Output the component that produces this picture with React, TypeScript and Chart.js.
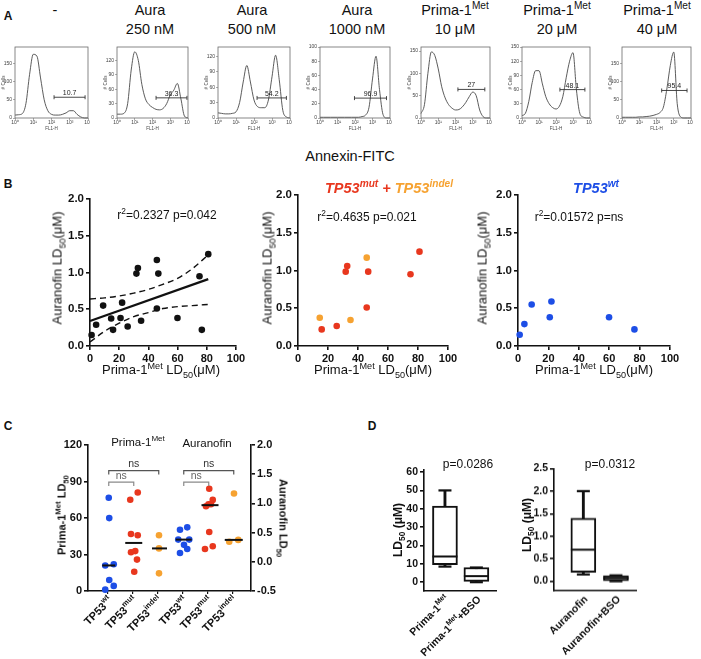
import React, { useEffect, useRef } from 'react';
import { Chart, registerables } from 'chart.js';

Chart.register(...registerables);

const FONT = "'Liberation Sans', Arial, Helvetica, sans-serif";
const RED = '#e8371e';
const ORANGE = '#f6a231';
const BLUE = '#1d4ee6';
const INK = '#111';

// ================= Panel A: flow cytometry (Annexin-FITC) =================
const histLogFL1 = [0, 0.2, 0.4, 0.6, 0.8, 1, 1.2, 1.4, 1.6, 1.8, 2, 2.2, 2.4, 2.6, 2.8, 3, 3.2, 3.4, 3.6, 3.8, 4];
const cellsControl = [8, 9, 12, 40, 120, 175, 170, 110, 50, 20, 10, 8, 8, 10, 14, 20, 20, 10, 3, 0, 0];
const cellsAura250 = [8, 8, 10, 30, 100, 138, 120, 70, 40, 28, 22, 18, 17, 20, 30, 48, 58, 72, 40, 4, 0];
const cellsAura500 = [10, 9, 8, 8, 9, 12, 30, 70, 102, 70, 35, 22, 20, 20, 35, 80, 122, 75, 15, 2, 0];
const cellsAura1000 = [1, 1, 1, 1, 1, 1, 1, 1, 1, 1, 1, 1, 2, 4, 15, 55, 87, 40, 5, 0, 0];
const cellsPrima10 = [10, 30, 100, 148, 140, 110, 70, 45, 30, 22, 18, 19, 25, 35, 48, 58, 50, 18, 3, 0, 0];
const cellsPrima20 = [5, 10, 35, 75, 100, 100, 72, 45, 30, 22, 19, 25, 45, 85, 120, 138, 60, 10, 2, 0, 0];
const cellsPrima40 = [2, 2, 2, 2, 2, 3, 3, 4, 5, 7, 10, 15, 30, 80, 145, 182, 40, 3, 0, 0, 0];
const histCounts = [cellsControl, cellsAura250, cellsAura500, cellsAura1000, cellsPrima10, cellsPrima20, cellsPrima40];
const histYMax = [195, 148, 138, 100, 159, 150, 196];
const histYStep = [50, 30, 30, 20, 50, 30, 50];
const gateStart = [2.14, 2.2, 2.17, 1.97, 2.14, 2.23, 2.3];
const gateEnd = [3.84, 3.94, 3.8, 3.8, 3.7, 3.7, 3.77];
const gateLevel = [57, 42, 39, 28, 64, 60, 76];
const gatePct = ['10.7', '36.3', '54.2', '96.9', '27', '48.1', '95.4'];
const histTitleTop = ['-', 'Aura', 'Aura', 'Aura', 'Prima-1^{Met}', 'Prima-1^{Met}', 'Prima-1^{Met}'];
const histTitleBottom = ['', '250 nM', '500 nM', '1000 nM', '10 \u03bcM', '20 \u03bcM', '40 \u03bcM'];
const SUP_DIGITS = ['\u2070', '\u00b9', '\u00b2', '\u00b3', '\u2074'];

// ================= Panel B: LD50 correlation =================
const wtPrimaLD50 = [1.1, 4.2, 9.0, 20.9, 22.0, 59.9, 76.6];
const wtAuraLD50 = [0.15, 0.29, 0.55, 0.38, 0.59, 0.38, 0.22];
const mutPrimaLD50 = [15.8, 25.8, 31.8, 32.8, 45.8, 46.8, 75, 81];
const mutAuraLD50 = [0.22, 0.265, 0.985, 1.06, 0.51, 0.985, 0.95, 1.25];
const indelPrimaLD50 = [14.5, 35, 45.8];
const indelAuraLD50 = [0.375, 0.344, 1.17];
const fitLineX = [0, 81];
const fitLineY = [0.34, 0.91];
const bandX = [0, 10, 20, 30, 40, 50, 60, 70, 81];
const bandUpper = [0.64, 0.655, 0.68, 0.72, 0.77, 0.84, 0.92, 1.05, 1.24];
const bandLower = [0.055, 0.2, 0.31, 0.4, 0.455, 0.51, 0.535, 0.55, 0.565];

// ================= Panel C: LD50 by TP53 status =================
const cCategories = ['TP53^{wt}', 'TP53^{mut}', 'TP53^{indel}', 'TP53^{wt}', 'TP53^{mut}', 'TP53^{indel}'];
const cCategoryPos = [1, 2, 3, 4, 5, 6];
const cWtPrimaPos = [0.89, 1.23, 1.05, 0.89, 1.23, 1.05, 1.03];
const cMutPrimaPos = [2.05, 2.16, 1.92, 2.09, 2.19, 1.92, 1.89, 2.19];
const cIndelPrimaPos = [3.04, 3.04, 3.04];
const cWtAuraPos = [3.88, 4.04, 3.88, 3.81, 4.17, 4.25, 4.17];
const cMutAuraPos = [4.88, 5.19, 5.02, 5.19, 5.05, 5.12, 4.92, 5.05];
const cIndelAuraPos = [6.21, 5.85, 6.04];
const cPrimaMedians = [21, 39.5, 35];
const cPrimaMedianPos = [1.03, 2.03, 3.06];
const cAuraMedians = [0.38, 0.97, 0.375];
const cAuraMedianPos = [4.03, 5.08, 6.03];
const bracketFrom = [1.03, 1.03, 4.03, 4.03];
const bracketTo = [3.03, 2.03, 6.03, 5.03];
const bracketLevel = [99, 89.5, 99, 89.5];
const bracketText = ['ns', 'ns', 'ns', 'ns'];

// ================= Panel D: BSO box plots =================
const dPrimaLabels = ['Prima-1^{Met}', 'Prima-1^{Met}+BSO'];
const dPrimaMin = [8.5, 0];
const dPrimaQ1 = [9.5, 0];
const dPrimaMed = [14, 3.3];
const dPrimaQ3 = [41.5, 8];
const dPrimaMax = [50, 8];
const dAuraLabels = ['Auranofin', 'Auranofin+BSO'];
const dAuraMin = [0.15, 0.0];
const dAuraQ1 = [0.2, 0.01];
const dAuraMed = [0.7, 0.07];
const dAuraQ3 = [1.4, 0.12];
const dAuraMax = [2.0, 0.13];
const dPos = [1, 2];

// ================= helpers =================
type Box = { l: number; t: number; r: number; b: number; ml: number; mt: number; mr: number; mb: number };
type Seg = { t: string; k: 'n' | 'sup' | 'sub' };

function parseRich(s: string): Seg[] {
  const out: Seg[] = [];
  const re = /\^\{([^}]*)\}|_\{([^}]*)\}/g;
  let last = 0;
  let m: RegExpExecArray | null;
  while ((m = re.exec(s))) {
    if (m.index > last) out.push({ t: s.slice(last, m.index), k: 'n' });
    if (m[1] !== undefined) out.push({ t: m[1], k: 'sup' });
    else out.push({ t: m[2], k: 'sub' });
    last = m.index + m[0].length;
  }
  if (last < s.length) out.push({ t: s.slice(last), k: 'n' });
  return out;
}

function Rich({ text }: { text: string }) {
  return (
    <>
      {parseRich(text).map((s, i) =>
        s.k === 'n' ? (
          <span key={i}>{s.t}</span>
        ) : (
          <span key={i} style={{ fontSize: '0.7em', position: 'relative', top: s.k === 'sup' ? '-0.6em' : '0.4em', lineHeight: 0 }}>
            {s.t}
          </span>
        )
      )}
    </>
  );
}

function Txt(props: { x: number; y: number; size: number; bold?: boolean; italic?: boolean; color?: string; rot?: number; children: any }) {
  const { x, y, size, bold, italic, color, rot, children } = props;
  return (
    <div
      style={{
        position: 'absolute',
        left: x,
        top: y,
        transform: `translate(-50%,-50%) rotate(${rot || 0}deg)`,
        fontFamily: FONT,
        fontSize: size,
        fontWeight: bold ? 700 : 400,
        fontStyle: italic ? 'italic' : 'normal',
        color: color || INK,
        whiteSpace: 'nowrap',
        lineHeight: 1,
      }}
    >
      {children}
    </div>
  );
}

const fitW = (w: number) => (s: any) => {
  s.width = w;
  s.paddingLeft = 0; s.paddingRight = 0; s.paddingTop = 0; s.paddingBottom = 0;
};
const fitH = (h: number) => (s: any) => {
  s.height = h;
  s.paddingLeft = 0; s.paddingRight = 0; s.paddingTop = 0; s.paddingBottom = 0;
};

function baseOptions(box: Box, rightPad?: number) {
  return {
    responsive: false,
    animation: false,
    devicePixelRatio: 1,
    events: [],
    layout: { padding: { left: 0, top: box.mt, right: rightPad === undefined ? box.mr : rightPad, bottom: 0 } },
    plugins: { legend: { display: false }, tooltip: { enabled: false }, title: { display: false } },
  };
}

const pts = (xs: number[], ys: number[]) => xs.map((x, i) => ({ x, y: ys[i] }));

function drawRichRight(ctx: CanvasRenderingContext2D, text: string, size: number, weight: string) {
  const segs = parseRich(text);
  const fontFor = (k: string) => `${weight} ${k === 'n' ? size : size * 0.7}px ${FONT}`;
  const widths = segs.map((s) => {
    ctx.font = fontFor(s.k);
    return ctx.measureText(s.t).width;
  });
  let x = -widths.reduce((a, b) => a + b, 0);
  segs.forEach((s, i) => {
    ctx.font = fontFor(s.k);
    const dy = s.k === 'sup' ? -size * 0.38 : s.k === 'sub' ? size * 0.25 : 0;
    ctx.fillText(s.t, x, dy);
    x += widths[i];
  });
}

function richTicksPlugin(labels: string[], positions: number[], size: number, dx: number, dy: number) {
  return {
    id: 'richTicks',
    afterDraw(chart: any) {
      const { ctx } = chart;
      const xs = chart.scales.x;
      labels.forEach((lab, i) => {
        const px = xs.getPixelForValue(positions[i]);
        ctx.save();
        ctx.translate(px + dx, xs.top + dy);
        ctx.rotate(-Math.PI / 4);
        ctx.fillStyle = INK;
        ctx.textAlign = 'left';
        ctx.textBaseline = 'middle';
        drawRichRight(ctx, lab, size, 'bold');
        ctx.restore();
      });
    },
  };
}

function ChartBox({ box, make }: { box: Box; make: () => any }) {
  const ref = useRef<HTMLCanvasElement | null>(null);
  const w = box.r - box.l + box.ml + box.mr;
  const h = box.b - box.t + box.mt + box.mb;
  useEffect(() => {
    if (!ref.current) return;
    const chart = new Chart(ref.current, make());
    return () => chart.destroy();
  }, []);
  return (
    <canvas
      ref={ref}
      width={w}
      height={h}
      style={{ position: 'absolute', left: box.l - box.ml, top: box.t - box.mt, width: w, height: h, display: 'block' }}
    />
  );
}

// ================= Panel A charts =================
const histLeft = [15, 117, 218, 320, 421, 522, 622];
const histRight = [88, 188, 290, 390, 490, 590, 691];
const histTitleX = [55, 150, 252, 357, 455, 557, 657];

const framePlugin = {
  id: 'frame',
  afterDatasetsDraw(chart: any) {
    const { ctx, chartArea: a } = chart;
    ctx.save();
    ctx.strokeStyle = '#6a6a6a';
    ctx.lineWidth = 0.8;
    ctx.strokeRect(a.left, a.top, a.right - a.left, a.bottom - a.top);
    ctx.restore();
  },
};

function gatePlugin(i: number) {
  return {
    id: 'gate',
    afterDatasetsDraw(chart: any) {
      const { ctx } = chart;
      const { x, y } = chart.scales;
      const x1 = x.getPixelForValue(gateStart[i]);
      const x2 = x.getPixelForValue(gateEnd[i]);
      const yy = y.getPixelForValue(gateLevel[i]);
      ctx.save();
      ctx.strokeStyle = '#333';
      ctx.lineWidth = 0.9;
      ctx.beginPath();
      ctx.moveTo(x1, yy); ctx.lineTo(x2, yy);
      ctx.moveTo(x1, yy - 2); ctx.lineTo(x1, yy + 2);
      ctx.moveTo(x2, yy - 2); ctx.lineTo(x2, yy + 2);
      ctx.stroke();
      ctx.fillStyle = '#222';
      ctx.font = `7px ${FONT}`;
      ctx.textAlign = 'center';
      ctx.textBaseline = 'bottom';
      ctx.fillText(gatePct[i], (x1 + x2) / 2, yy - 0.5);
      ctx.restore();
    },
  };
}

function histConfig(i: number, box: Box) {
  const small = { size: 5, family: FONT };
  return {
    type: 'line',
    data: {
      datasets: [
        {
          data: pts(histLogFL1, histCounts[i]),
          borderColor: '#4a4a4a',
          borderWidth: 0.9,
          pointRadius: 0,
          cubicInterpolationMode: 'monotone',
          fill: false,
          clip: false,
        },
      ],
    },
    options: {
      ...baseOptions(box),
      scales: {
        x: {
          type: 'linear', min: 0, max: 4, afterFit: fitH(box.mb),
          border: { display: false },
          grid: { drawOnChartArea: false, drawTicks: true, tickLength: 2, color: '#777', lineWidth: 0.6 },
          ticks: { stepSize: 1, padding: 0, autoSkip: false, maxRotation: 0, font: small, color: '#444', callback: (v: number) => '10' + (SUP_DIGITS[v] || '') },
          title: { display: true, text: 'FL1-H', font: { size: 4.5, family: FONT }, color: '#444', padding: 0 },
        },
        y: {
          type: 'linear', min: 0, max: histYMax[i], afterFit: fitW(box.ml),
          border: { display: false },
          grid: { drawOnChartArea: false, drawTicks: true, tickLength: 2, color: '#777', lineWidth: 0.6 },
          ticks: { stepSize: histYStep[i], includeBounds: false, padding: 1, font: small, color: '#444' },
          title: { display: true, text: '# Cells', font: { size: 4.5, family: FONT }, color: '#444', padding: 0 },
        },
      },
    },
    plugins: [framePlugin, gatePlugin(i)],
  };
}

// ================= Panel B charts =================
const axisB = (min: number, max: number, step: number, size: number, fit: any, fmt?: (v: number) => string) => ({
  type: 'linear', min, max, afterFit: fit,
  border: { display: true, color: INK, width: 1.6 },
  grid: { drawOnChartArea: false, drawTicks: true, tickLength: 4, color: INK, lineWidth: 1.6 },
  ticks: { stepSize: step, includeBounds: false, padding: 2, autoSkip: false, maxRotation: 0, font: { size, weight: 'bold', family: FONT }, color: INK, ...(fmt ? { callback: fmt } : {}) },
});

function scatterBConfig(box: Box, datasets: any[]) {
  return {
    type: 'scatter',
    data: { datasets },
    options: {
      ...baseOptions(box),
      scales: {
        x: axisB(0, 100, 20, 11, fitH(box.mb)),
        y: axisB(0, 2, 0.5, 11.5, fitW(box.ml), (v: number) => v.toFixed(1)),
      },
    },
  };
}

const dotSet = (data: any[], color: string, yAxisID = 'y') => ({
  type: 'scatter', data, yAxisID, backgroundColor: color, borderWidth: 0, pointRadius: 3.3, clip: false,
});

const boxB1: Box = { l: 90, t: 199, r: 236, b: 346, ml: 42, mt: 8, mr: 12, mb: 22 };
const boxB2: Box = { l: 298, t: 195, r: 448, b: 346, ml: 42, mt: 8, mr: 12, mb: 22 };
const boxB3: Box = { l: 518, t: 195, r: 670, b: 346, ml: 42, mt: 8, mr: 12, mb: 22 };

function b1Config() {
  const allPrima = [...wtPrimaLD50, ...mutPrimaLD50, ...indelPrimaLD50];
  const allAura = [...wtAuraLD50, ...mutAuraLD50, ...indelAuraLD50];
  return scatterBConfig(boxB1, [
    dotSet(pts(allPrima, allAura), INK),
    { type: 'line', data: pts(fitLineX, fitLineY), borderColor: INK, borderWidth: 2.2, pointRadius: 0, showLine: true, clip: false },
    { type: 'line', data: pts(bandX, bandUpper), borderColor: INK, borderWidth: 1.4, borderDash: [6, 4], pointRadius: 0, showLine: true, cubicInterpolationMode: 'monotone', clip: false },
    { type: 'line', data: pts(bandX, bandLower), borderColor: INK, borderWidth: 1.4, borderDash: [6, 4], pointRadius: 0, showLine: true, cubicInterpolationMode: 'monotone', clip: false },
  ]);
}
function b2Config() {
  return scatterBConfig(boxB2, [dotSet(pts(mutPrimaLD50, mutAuraLD50), RED), dotSet(pts(indelPrimaLD50, indelAuraLD50), ORANGE)]);
}
function b3Config() {
  return scatterBConfig(boxB3, [dotSet(pts(wtPrimaLD50, wtAuraLD50), BLUE)]);
}

// ================= Panel C chart =================
const boxC: Box = { l: 88, t: 440, r: 251, b: 591, ml: 40, mt: 6, mr: 40, mb: 56 };

const bracketPlugin = {
  id: 'brackets',
  afterDatasetsDraw(chart: any) {
    const { ctx } = chart;
    const { x, y } = chart.scales;
    bracketFrom.forEach((from, i) => {
      const x1 = x.getPixelForValue(from);
      const x2 = x.getPixelForValue(bracketTo[i]);
      const yy = y.getPixelForValue(bracketLevel[i]);
      const col = i % 2 === 0 ? '#555' : '#8a8a8a';
      ctx.save();
      ctx.strokeStyle = col;
      ctx.lineWidth = 1.2;
      ctx.beginPath();
      ctx.moveTo(x1, yy + 4); ctx.lineTo(x1, yy); ctx.lineTo(x2, yy); ctx.lineTo(x2, yy + 4);
      ctx.stroke();
      ctx.fillStyle = i % 2 === 0 ? '#333' : '#666';
      ctx.font = `10.5px ${FONT}`;
      ctx.textAlign = 'center';
      ctx.textBaseline = 'bottom';
      ctx.fillText(bracketText[i], (x1 + x2) / 2, yy - 1);
      ctx.restore();
    });
  },
};

function cConfig() {
  const box = boxC;
  const yAxis = (min: number, max: number, step: number, pos: string, fit: any, fmt?: (v: number) => string) => ({
    type: 'linear', position: pos, min, max, afterFit: fit,
    border: { display: true, color: INK, width: 1.6 },
    grid: { drawOnChartArea: false, drawTicks: true, tickLength: 4, color: INK, lineWidth: 1.6 },
    ticks: { stepSize: step, includeBounds: false, padding: 2, font: { size: 11, weight: 'bold', family: FONT }, color: INK, ...(fmt ? { callback: fmt } : {}) },
  });
  return {
    type: 'scatter',
    data: {
      datasets: [
        { type: 'scatter', data: pts(cPrimaMedianPos, cPrimaMedians), yAxisID: 'y', pointStyle: 'line', pointRadius: [6.5, 8.5, 7.5], borderColor: INK, borderWidth: 2, clip: false },
        { type: 'scatter', data: pts(cAuraMedianPos, cAuraMedians), yAxisID: 'y1', pointStyle: 'line', pointRadius: [8, 8.5, 9], borderColor: INK, borderWidth: 2, clip: false },
        dotSet(pts(cWtPrimaPos, wtPrimaLD50), BLUE, 'y'),
        dotSet(pts(cMutPrimaPos, mutPrimaLD50), RED, 'y'),
        dotSet(pts(cIndelPrimaPos, indelPrimaLD50), ORANGE, 'y'),
        dotSet(pts(cWtAuraPos, wtAuraLD50), BLUE, 'y1'),
        dotSet(pts(cMutAuraPos, mutAuraLD50), RED, 'y1'),
        dotSet(pts(cIndelAuraPos, indelAuraLD50), ORANGE, 'y1'),
      ],
    },
    options: {
      ...baseOptions(box, 0),
      scales: {
        x: {
          type: 'linear', min: 0.2, max: 6.72, afterFit: fitH(box.mb),
          border: { display: true, color: INK, width: 1.6 },
          grid: { drawOnChartArea: false, drawTicks: true, tickLength: 3, color: INK, lineWidth: 1.2 },
          ticks: { stepSize: 1, includeBounds: false, autoSkip: false, maxRotation: 0, callback: () => '' },
        },
        y: yAxis(0, 120, 30, 'left', fitW(box.ml)),
        y1: yAxis(-0.5, 2, 0.5, 'right', fitW(box.mr), (v: number) => v.toFixed(1)),
      },
    },
    plugins: [bracketPlugin, richTicksPlugin(cCategories, cCategoryPos, 11, 3, 8)],
  };
}

// ================= Panel D charts =================
const boxD1: Box = { l: 424, t: 460.5, r: 507, b: 590.5, ml: 40, mt: 6, mr: 4, mb: 68 };
const boxD2: Box = { l: 554, t: 460, r: 647, b: 590.5, ml: 40, mt: 6, mr: 4, mb: 68 };

function boxPlotConfig(box: Box, labels: string[], mn: number[], q1: number[], md: number[], q3: number[], mx: number[], yMin: number, yMax: number, step: number, fmt: (v: number) => string, xMin: number, xMax: number) {
  return {
    type: 'bar',
    data: {
      datasets: [
        { type: 'scatter', data: pts(dPos, md), pointStyle: 'line', pointRadius: 12.5, borderColor: INK, borderWidth: 2, clip: false },
        { type: 'scatter', data: [...pts(dPos, mx), ...pts(dPos, mn)], pointStyle: 'line', pointRadius: 6.5, borderColor: INK, borderWidth: 2.2, clip: false },
        { type: 'bar', data: dPos.map((x, i) => ({ x, y: [q1[i], q3[i]] })), backgroundColor: '#fff', borderColor: INK, borderWidth: 2, borderSkipped: false, barThickness: 25, grouped: false },
        { type: 'bar', data: dPos.map((x, i) => ({ x, y: [mn[i], mx[i]] })), backgroundColor: INK, borderWidth: 0, barThickness: 2.2, grouped: false },
      ],
    },
    options: {
      ...baseOptions(box),
      scales: {
        x: {
          type: 'linear', min: xMin, max: xMax, offset: false, afterFit: fitH(box.mb),
          border: { display: true, color: INK, width: 1.6 },
          grid: { display: false, offset: false },
          ticks: { display: false },
        },
        y: {
          type: 'linear', min: yMin, max: yMax, afterFit: fitW(box.ml),
          border: { display: true, color: INK, width: 1.6 },
          grid: { drawOnChartArea: false, drawTicks: true, tickLength: 4, color: INK, lineWidth: 1.6 },
          ticks: { stepSize: step, includeBounds: false, padding: 2, font: { size: 10.5, weight: 'bold', family: FONT }, color: INK, callback: fmt },
        },
      },
    },
    plugins: [richTicksPlugin(labels, dPos, 10.5, 3, 7)],
  };
}

function d1Config() {
  return boxPlotConfig(boxD1, dPrimaLabels, dPrimaMin, dPrimaQ1, dPrimaMed, dPrimaQ3, dPrimaMax, -4.8, 61.4, 10, (v) => String(v), 0.333, 2.64);
}
function d2Config() {
  return boxPlotConfig(boxD2, dAuraLabels, dAuraMin, dAuraQ1, dAuraMed, dAuraQ3, dAuraMax, -0.21, 2.5, 0.5, (v) => v.toFixed(1), 0.1, 2.63);
}

// ================= App =================
export default function App() {
  const histBoxes: Box[] = histLeft.map((l, i) => ({ l, t: 47, r: histRight[i], b: 118, ml: 14, mt: 4, mr: 2, mb: 13 }));
  return (
    <div style={{ position: 'absolute', left: 0, top: 0, width: 701, height: 659, overflow: 'hidden', background: '#fff' }}>
      {/* Panel letters */}
      <Txt x={8} y={16} size={12} bold>A</Txt>
      <Txt x={8} y={184} size={12} bold>B</Txt>
      <Txt x={8} y={426} size={12} bold>C</Txt>
      <Txt x={372} y={426} size={12} bold>D</Txt>

      {/* Panel A */}
      {histBoxes.map((b, i) => (
        <ChartBox key={'h' + i} box={b} make={() => histConfig(i, b)} />
      ))}
      {histTitleTop.map((t, i) => (
        <Txt key={'tt' + i} x={histTitleX[i]} y={10} size={14.5}><Rich text={t} /></Txt>
      ))}
      {histTitleBottom.map((t, i) =>
        t ? <Txt key={'tb' + i} x={histTitleX[i]} y={29} size={14.5}>{t}</Txt> : null
      )}
      <Txt x={350} y={156} size={14.5}>Annexin-FITC</Txt>

      {/* Panel B */}
      <ChartBox box={boxB1} make={b1Config} />
      <ChartBox box={boxB2} make={b2Config} />
      <ChartBox box={boxB3} make={b3Config} />
      <Txt x={167} y={215} size={12}><Rich text="r^{2}=0.2327 p=0.042" /></Txt>
      <Txt x={367} y={217} size={12}><Rich text="r^{2}=0.4635 p=0.021" /></Txt>
      <Txt x={579} y={217} size={12}><Rich text="r^{2}=0.01572 p=ns" /></Txt>
      <Txt x={389} y={188} size={14.5} bold italic>
        <span style={{ color: RED }}><Rich text="TP53^{mut} +" /></span>{' '}
        <span style={{ color: ORANGE }}><Rich text="TP53^{indel}" /></span>
      </Txt>
      <Txt x={596} y={188} size={14.5} bold italic color={BLUE}><Rich text="TP53^{wt}" /></Txt>
      {[57, 267, 482].map((x, i) => (
        <Txt key={'by' + i} x={x} y={268} size={13} rot={-90}><Rich text={'Auranofin LD_{50}(\u03bcM)'} /></Txt>
      ))}
      {[161, 373, 594].map((x, i) => (
        <Txt key={'bx' + i} x={x} y={369} size={13}><Rich text={'Prima-1^{Met} LD_{50}(\u03bcM)'} /></Txt>
      ))}

      {/* Panel C */}
      <ChartBox box={boxC} make={cConfig} />
      <Txt x={138} y={443} size={11.5}><Rich text="Prima-1^{Met}" /></Txt>
      <Txt x={207} y={444} size={11.5}>Auranofin</Txt>
      <Txt x={62} y={515} size={11} bold rot={-90}><Rich text="Prima-1^{Met} LD_{50}" /></Txt>
      <Txt x={283} y={518} size={11} bold rot={90}><Rich text="Auranofin LD_{50}" /></Txt>

      {/* Panel D */}
      <ChartBox box={boxD1} make={d1Config} />
      <ChartBox box={boxD2} make={d2Config} />
      <Txt x={468} y={464} size={12}>p=0.0286</Txt>
      <Txt x={610} y={464} size={12}>p=0.0312</Txt>
      <Txt x={398} y={530} size={12} bold rot={-90}><Rich text={'LD_{50}  (\u03bcM)'} /></Txt>
      <Txt x={527} y={525} size={12} bold rot={-90}><Rich text={'LD_{50}  (\u03bcM)'} /></Txt>
    </div>
  );
}
